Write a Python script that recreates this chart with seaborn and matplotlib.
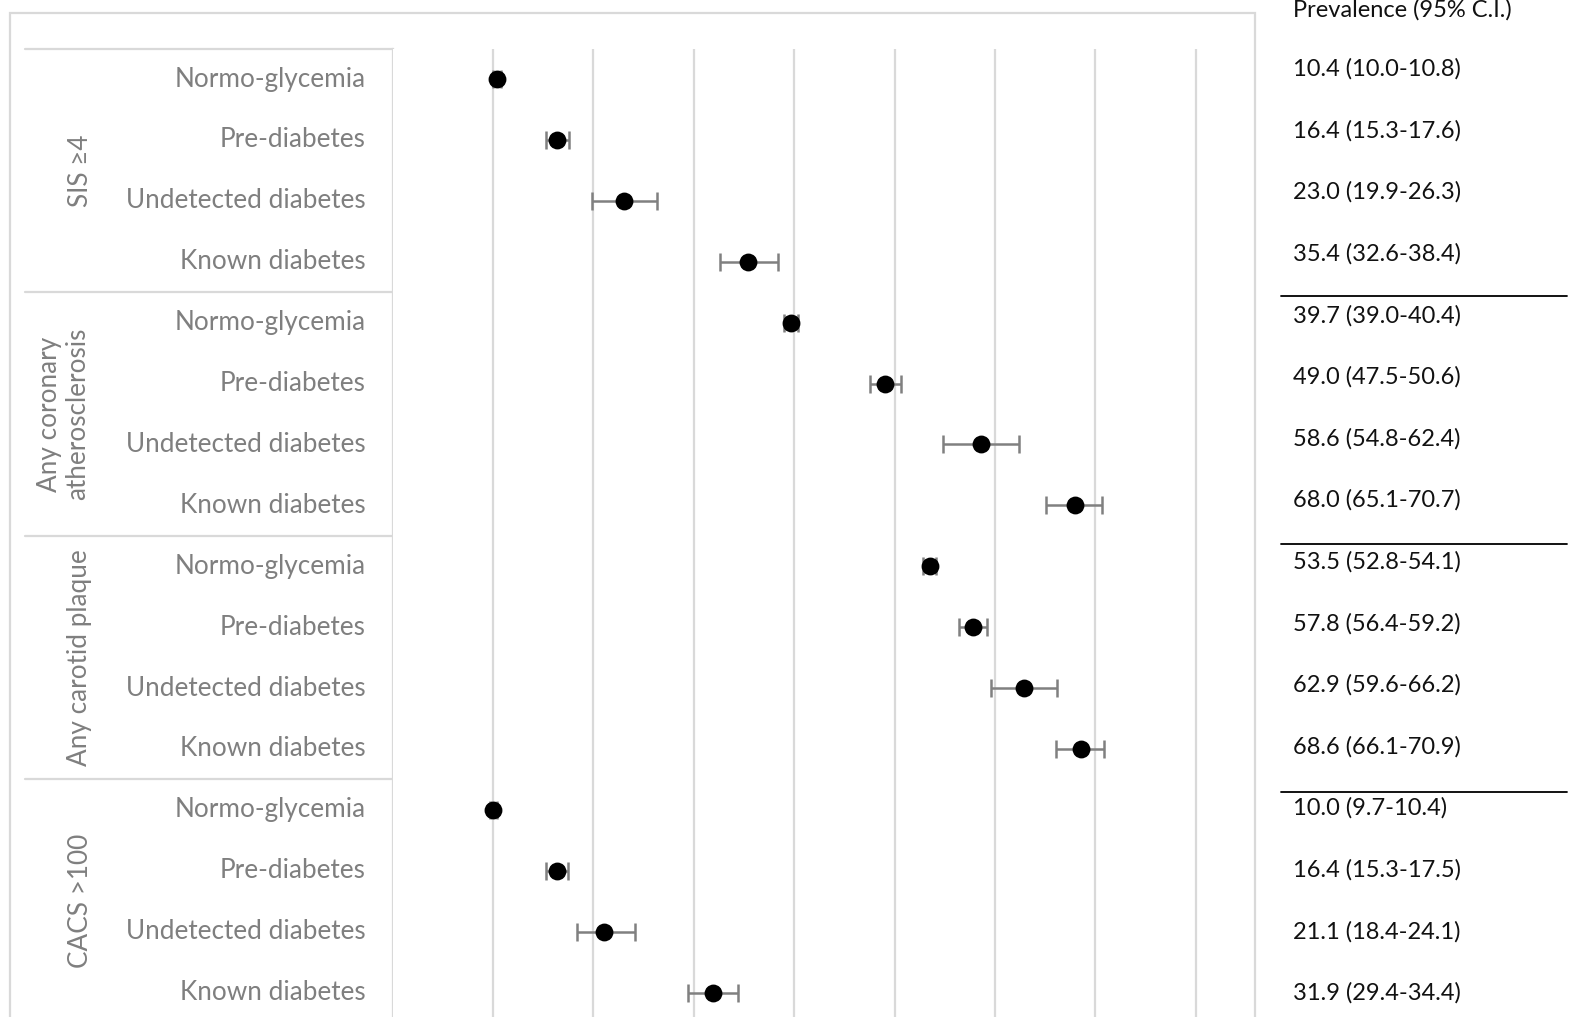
import matplotlib
matplotlib.use("Agg")
import matplotlib.pyplot as plt
from matplotlib.lines import Line2D
from matplotlib.patches import Rectangle
import numpy as np
import pandas as pd
import seaborn as sns

# ---- data -------------------------------------------------------------
groups = ["SIS \u22654", "Any coronary\natherosclerosis", "Any carotid plaque", "CACS >100"]
categories = ["Normo-glycemia", "Pre-diabetes", "Undetected diabetes", "Known diabetes"]

sis_est = [10.4, 16.4, 23.0, 35.4]
sis_lo = [10.0, 15.3, 19.9, 32.6]
sis_hi = [10.8, 17.6, 26.3, 38.4]

coronary_est = [39.7, 49.0, 58.6, 68.0]
coronary_lo = [39.0, 47.5, 54.8, 65.1]
coronary_hi = [40.4, 50.6, 62.4, 70.7]

carotid_est = [53.5, 57.8, 62.9, 68.6]
carotid_lo = [52.8, 56.4, 59.6, 66.1]
carotid_hi = [54.1, 59.2, 66.2, 70.9]

cacs_est = [10.0, 16.4, 21.1, 31.9]
cacs_lo = [9.7, 15.3, 18.4, 29.4]
cacs_hi = [10.4, 17.5, 24.1, 34.4]

table_header = "Prevalence (95% C.I.)"
x_ticks = [10, 20, 30, 40, 50, 60, 70, 80]

# ---- long table --------------------------------------------------------
est = sis_est + coronary_est + carotid_est + cacs_est
lo = sis_lo + coronary_lo + carotid_lo + cacs_lo
hi = sis_hi + coronary_hi + carotid_hi + cacs_hi
df = pd.DataFrame({
    "group": np.repeat(groups, len(categories)),
    "category": categories * len(groups),
    "estimate": est,
    "lower": lo,
    "upper": hi,
})
df["row"] = np.arange(len(df))

# ---- figure ------------------------------------------------------------
sns.set_theme(style="white")
plt.rcParams["font.family"] = ["Lato", "DejaVu Sans"]

W, H = 1575, 1017
fig = plt.figure(figsize=(W / 100, H / 100), dpi=100)
fig.patch.set_facecolor("white")

GRID = "#d9d9d9"
LABEL = "#7f7f7f"
LABEL_SIZE = 18.8
TABLE_SIZE = 17.0

row_top, row_step = 79.0, 60.9
ax_top = row_top - row_step / 2
ax_bot = ax_top + row_step * len(df)


def fx(px):
    return px / W


def fy(py):
    return 1 - py / H


# outer chart frame
fig.add_artist(Rectangle((fx(10), fy(1040)), fx(1255) - fx(10), fy(13) - fy(1040),
                         transform=fig.transFigure, fill=False, edgecolor=GRID, lw=1.6))

# category label panel
lab = fig.add_axes([fx(25), fy(ax_bot), fx(392.6) - fx(25), fy(ax_top) - fy(ax_bot)])
lab.set_xlim(0, 1)
lab.set_ylim(len(df) - 0.5, -0.5)
lab.set_xticks([])
lab.set_yticks([])
for s in ["left", "top", "bottom"]:
    lab.spines[s].set_visible(False)
lab.spines["right"].set_color(GRID)
lab.spines["right"].set_linewidth(1.6)
for b in [-0.5, 3.5, 7.5, 11.5]:
    lab.axhline(b, color=GRID, lw=1.6, clip_on=False)

lab_w = 392.6 - 25
for _, r in df.iterrows():
    lab.text((366 - 25) / lab_w, r["row"], r["category"], ha="right", va="center",
             color=LABEL, fontsize=LABEL_SIZE)
for gi, g in enumerate(groups):
    gx = 80 if "\n" not in g else 63.5
    lab.text((gx - 25) / lab_w, gi * 4 + 1.5, g, rotation=90, ha="center", va="center",
             multialignment="center", color=LABEL, fontsize=LABEL_SIZE, linespacing=1.2)

# plot panel
ax = fig.add_axes([fx(392.6), fy(ax_bot), fx(1255) - fx(392.6), fy(ax_top) - fy(ax_bot)])
ax.set_xlim(0, (1255 - 392.6) / 10.04)
ax.set_ylim(len(df) - 0.5, -0.5)
ax.set_xticks(x_ticks)
ax.set_yticks([])
ax.tick_params(axis="x", length=0, labelbottom=False)
for s in ax.spines.values():
    s.set_visible(False)
ax.grid(axis="x", color=GRID, lw=1.6)
ax.grid(axis="y", visible=False)
ax.set_axisbelow(True)

ax.errorbar(df["estimate"], df["row"],
            xerr=[df["estimate"] - df["lower"], df["upper"] - df["estimate"]],
            fmt="none", ecolor="#808080", elinewidth=1.8, capsize=6.2, capthick=1.8, zorder=2)
sns.scatterplot(data=df, x="estimate", y="row", ax=ax, color="black", s=165,
                edgecolor="black", linewidth=0, zorder=3, legend=False)
ax.set_xlabel("")
ax.set_ylabel("")

# prevalence table
fig.text(fx(1293), fy(17), table_header, ha="left", va="baseline", fontsize=TABLE_SIZE, color="#111111")
t_top, t_step = 69.0, 61.6
for i, r in df.iterrows():
    txt = f"{r['estimate']:.1f} ({r['lower']:.1f}-{r['upper']:.1f})"
    fig.text(fx(1293), fy(t_top + t_step * i), txt, ha="left", va="center",
             fontsize=TABLE_SIZE, color="#111111")
for ly in [296, 544, 792]:
    fig.add_artist(Line2D([fx(1281), fx(1567)], [fy(ly), fy(ly)], transform=fig.transFigure,
                          color="black", lw=1.3))

fig.savefig("out.png", dpi=100, facecolor="white")
